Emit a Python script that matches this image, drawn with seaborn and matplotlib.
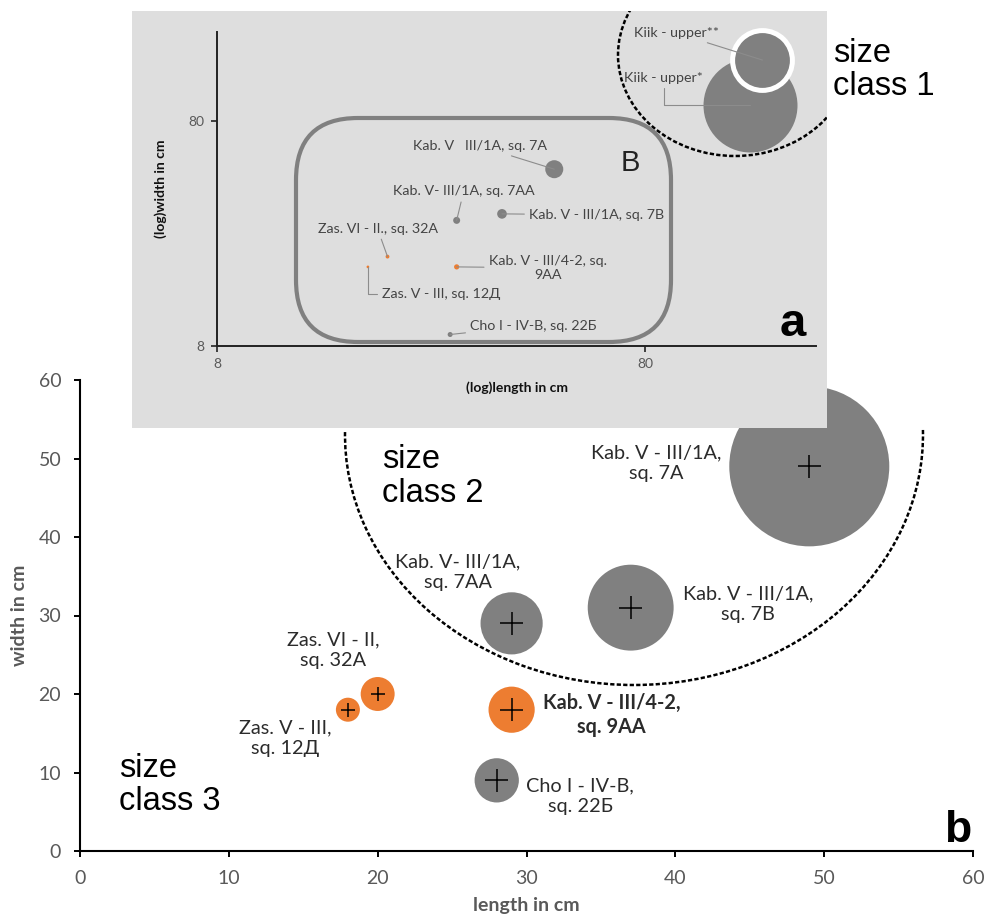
import numpy as np
import pandas as pd
import matplotlib
matplotlib.use("Agg")
import matplotlib.pyplot as plt
import seaborn as sns
from matplotlib.patches import Arc, Ellipse, FancyBboxPatch, Rectangle

# ── DATA ──────────────────────────────────────────────────────
labels = ["Kab. V - III/1A,\nsq. 7A", "Kab. V - III/1A,\nsq. 7B", "Kab. V- III/1A,\nsq. 7AA",
          "Kab. V - III/4-2,\nsq. 9AA", "Cho I - IV-B,\nsq. 22Б",
          "Zas. VI - II,\nsq. 32A", "Zas. V - III,\nsq. 12Д"]
inset_labels = ["Kab. V   III/1A, sq. 7A", "Kab. V - III/1A, sq. 7B", "Kab. V- III/1A, sq. 7AA",
                "Kab. V - III/4-2, sq.\n9AA", "Cho I - IV-B, sq. 22Б",
                "Zas. VI - II., sq. 32A", "Zas. V - III, sq. 12Д"]
length_cm = [49, 37, 29, 29, 28, 20, 18]
width_cm = [49, 31, 29, 18, 9, 20, 18]
bubble = [44.4, 12.8, 6.7, 3.7, 3.4, 2.0, 1.0]
group = ["other", "other", "other", "focus", "other", "focus", "focus"]

kiik_labels = ["Kiik - upper*", "Kiik - upper**"]
kiik_length = [140, 150]
kiik_width = [95, 150]
kiik_bubble = [1210, 490]

# ── STYLE / LAYOUT ────────────────────────────────────────────
W, H = 985, 921
GREY = "#808080"
ORANGE = "#ED7D31"
INSET_BG = "#DEDEDE"
TXT = "#2B2B2B"
TICK = "#595959"
palette = {"other": GREY, "focus": ORANGE}

sns.set_theme(style="white")
plt.rcParams["font.family"] = ["Lato", "DejaVu Sans"]
ARIAL = ["Liberation Sans", "DejaVu Sans"]


def px_rect(x0, y0, x1, y1):
    return [x0 / W, 1 - y1 / H, (x1 - x0) / W, (y1 - y0) / H]


fig = plt.figure(figsize=(W / 100, H / 100), dpi=100)

main_df = pd.DataFrame({"length": length_cm, "width": width_cm, "bubble": bubble,
                        "group": group, "label": labels, "inset_label": inset_labels})
kiik_df = pd.DataFrame({"length": kiik_length, "width": kiik_width,
                        "bubble": kiik_bubble, "label": kiik_labels})

# ── b: linear plot ────────────────────────────────────────────
ax = fig.add_axes(px_rect(80, 380, 973, 851))
S_MAIN = (160 * 0.72) ** 2
sns.scatterplot(data=main_df, x="length", y="width", hue="group", palette=palette,
                size="bubble", sizes=(0, S_MAIN), size_norm=(0, max(bubble)),
                linewidth=0, legend=False, ax=ax, zorder=2, clip_on=False)
cross_s = np.where(main_df["bubble"] >= 3, (23 * 0.72) ** 2, (14 * 0.72) ** 2)
sns.scatterplot(data=main_df, x="length", y="width", marker="+", s=cross_s,
                color="black", linewidth=1.1, legend=False, ax=ax, zorder=3)

label_pos = [(38.7, 49.4), (44.9, 31.4), (25.4, 35.5), (35.7, 17.3),
             (33.6, 7.0), (17.0, 25.6), (13.8, 14.4)]
for (lx, ly), txt in zip(label_pos, main_df["label"]):
    bold = txt.startswith("Kab. V - III/4-2")
    ax.text(lx, ly, txt, ha="center", va="center", fontsize=14.3, color=TXT,
            linespacing=1.25, fontweight="bold" if bold else "normal")

ax.set_xlim(0, 60)
ax.set_ylim(0, 60)
ax.set_xticks(range(0, 61, 10))
ax.set_yticks(range(0, 61, 10))
sns.despine(ax=ax)
for sp in ["left", "bottom"]:
    ax.spines[sp].set_color("black")
    ax.spines[sp].set_linewidth(1.5)
ax.tick_params(axis="both", length=4.5, width=1.4, color="black", labelcolor=TICK,
               labelsize=14, pad=9, bottom=True, left=True)
ax.set_xlabel("length in cm", fontsize=14, fontweight="bold", color=TICK, va="center")
ax.set_ylabel("width in cm", fontsize=14, fontweight="bold", color=TICK, va="center")
ax.xaxis.set_label_coords(0.5, -(905 - 851) / 471)
ax.yaxis.set_label_coords((20 - 80) / 893, 0.5)
ax.text(2.6, 8.4, "size\nclass 3", fontsize=23.5, family=ARIAL, ha="left", va="center",
        linespacing=1.1, color="black")
ax.text(20.3, 47.7, "size\nclass 2", fontsize=23.5, family=ARIAL, ha="left", va="center",
        linespacing=1.1, color="black")

# ── a: log inset ──────────────────────────────────────────────
ax_bg = fig.add_axes(px_rect(132, 11, 827, 428))
ax_bg.set_facecolor(INSET_BG)
ax_bg.set_xticks([])
ax_bg.set_yticks([])
for sp in ax_bg.spines.values():
    sp.set_visible(False)

ax_in = fig.add_axes(px_rect(217, 32, 816, 346))
ax_in.patch.set_alpha(0)
S_IN = (94 * 0.72) ** 2
norm_in = (0, max(kiik_bubble))
sns.scatterplot(data=main_df, x="length", y="width", hue="group", palette=palette,
                size="bubble", sizes=(0, S_IN), size_norm=norm_in,
                linewidth=0, legend=False, ax=ax_in, zorder=2)
sns.scatterplot(data=kiik_df.iloc[[0]], x="length", y="width", color=GREY,
                size="bubble", sizes=(0, S_IN), size_norm=norm_in,
                linewidth=0, legend=False, ax=ax_in, zorder=2, clip_on=False)
sns.scatterplot(data=kiik_df.iloc[[1]], x="length", y="width", color=GREY,
                size="bubble", sizes=(0, S_IN), size_norm=norm_in,
                edgecolor="white", linewidth=3.6, legend=False, ax=ax_in, zorder=3,
                clip_on=False)
ax_in.set_xscale("log")
ax_in.set_yscale("log")
ax_in.set_xlim(8, 200)
ax_in.set_ylim(8, 200)
ax_in.set_xticks([8, 80])
ax_in.set_yticks([8, 80])
ax_in.set_xticklabels(["8", "80"])
ax_in.set_yticklabels(["8", "80"])
ax_in.minorticks_off()
sns.despine(ax=ax_in)
for sp in ["left", "bottom"]:
    ax_in.spines[sp].set_color("#222222")
    ax_in.spines[sp].set_linewidth(1.4)
ax_in.tick_params(axis="both", length=4, width=1.2, color="#222222", labelcolor=TICK,
                  labelsize=10, pad=5, bottom=True, left=True)
ax_in.set_xlabel("(log)length in cm", fontsize=10, fontweight="bold", color="#111111",
                 va="center")
ax_in.set_ylabel("(log)width in cm", fontsize=10, fontweight="bold", color="#111111",
                 va="center")
ax_in.xaxis.set_label_coords(0.5, -(388 - 346) / 314)
ax_in.yaxis.set_label_coords((161 - 217) / 599, 0.5)

# inset labels with leader lines (offsets in pixels from the point)
lead = dict(arrowstyle="-", color="#8C8C8C", lw=0.8, shrinkA=1, shrinkB=0)
inset_offsets = [((-74, 23), "center", "arc3"), ((27, -1), "left", "arc3"),
                 ((7, 29), "center", "arc3"), ((91, -1), "center", "arc3"),
                 ((20, 9), "left", "arc3"), ((-10, 28), "center", "arc3"),
                 ((14, -27), "left", "angle,angleA=0,angleB=90,rad=0")]
for (lx, ly, txt), (off, ha, cs) in zip(main_df[["length", "width", "inset_label"]].values,
                                        inset_offsets):
    ax_in.annotate(txt, xy=(lx, ly), xytext=off, textcoords="offset pixels",
                   ha=ha, va="center", fontsize=10.3, color="#444444", multialignment="center",
                   arrowprops=dict(lead, connectionstyle=cs), zorder=4)
kiik_offsets = [((-86, 27), "angle,angleA=90,angleB=0,rad=0"), ((-86, 27), "arc3")]
for (lx, ly, txt), (off, cs) in zip(kiik_df[["length", "width", "label"]].values, kiik_offsets):
    ax_in.annotate(txt, xy=(lx, ly), xytext=off, textcoords="offset pixels",
                   ha="center", va="center", fontsize=10.3, color="#444444",
                   arrowprops=dict(lead, connectionstyle=cs), zorder=4,
                   annotation_clip=False)

# ── overlay decorations in pixel coordinates ─────────────────
ov = fig.add_axes([0, 0, 1, 1])
ov.set_xlim(0, W)
ov.set_ylim(H, 0)
ov.axis("off")
ov.patch.set_alpha(0)
dash = (0, (1.7, 0.9))
ov.add_patch(Arc((634, 435), 2 * 289, 2 * 250, theta1=-1, theta2=181,
                 color="black", lw=1.8, linestyle=dash))
clip = Rectangle((132, 11), 695, 417, transform=ov.transData)
ell = Ellipse((735, 55), 2 * 117, 2 * 101, fill=False, edgecolor="black", lw=1.8,
              linestyle=dash)
ov.add_patch(ell)
ell.set_clip_path(clip)
ov.add_patch(FancyBboxPatch((296 + 62, 118 + 62), 375 - 124, 224 - 124,
                            boxstyle="round,pad=62,rounding_size=62",
                            fill=False, edgecolor=GREY, lw=3))
ov.text(630, 163, "B", fontsize=21, family=ARIAL, ha="center", va="center", color="#222222")
ov.text(793, 336, "a", fontsize=34, family=ARIAL, fontweight="bold", ha="center",
        va="baseline", color="black")
ov.text(958, 842, "b", fontsize=32, family=ARIAL, fontweight="bold", ha="center",
        va="baseline", color="black")
ov.text(833, 70, "size\nclass 1", fontsize=23.5, family=ARIAL, ha="left", va="center",
        linespacing=1.1, color="black")

fig.savefig("out.png", dpi=100)
